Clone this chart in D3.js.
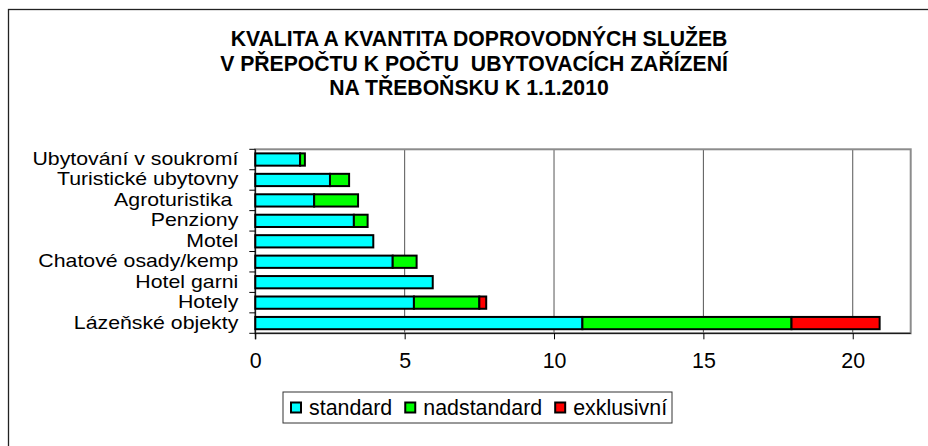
<!DOCTYPE html>
<html>
<head>
<meta charset="utf-8">
<script src="https://cdn.jsdelivr.net/npm/d3@7"></script>
<style>
  body { margin: 0; background: #fff; }
  svg text { font-family: "Liberation Sans", Arial, sans-serif; }
</style>
</head>
<body>
<svg class="svg"></svg>
<script>
// data (top to bottom as in the picture)
const categories = [
  "Ubytování v soukromí",
  "Turistické ubytovny",
  "Agroturistika ",
  "Penziony",
  "Motel",
  "Chatové osady/kemp",
  "Hotel garni",
  "Hotely",
  "Lázeňské objekty"
];
const standard    = [1.5, 2.5, 1.97, 3.3, 3.95, 4.6, 5.94, 5.31, 10.95];
const nadstandard = [0.16, 0.64, 1.47, 0.46, 0, 0.8, 0, 2.19, 7.0];
const exklusivni  = [0, 0, 0, 0, 0, 0, 0, 0.23, 2.95];
const seriesNames = ["standard", "nadstandard", "exklusivní"];
const seriesColors = ["#00ffff", "#00ff00", "#ff0000"];
const xTicks = [0, 5, 10, 15, 20];
const titleLines = [
  "KVALITA A KVANTITA DOPROVODNÝCH SLUŽEB",
  "V PŘEPOČTU K POČTU  UBYTOVACÍCH ZAŘÍZENÍ",
  "NA TŘEBOŇSKU K 1.1.2010"
];

const width = 928, height = 446;
const plot = { left: 255.3, right: 910.7, top: 149.3, bottom: 333.3 };
const fontSize = 21.4;
// category labels are set a bit smaller and stretched so lines don't collide
const labelSize = 18.2, labelStretch = 1.17;

const svg = d3.select(".svg")
  .attr("width", width)
  .attr("height", height);

// outer chart frame (only top and left edges show)
svg.append("rect")
  .attr("x", 8.5).attr("y", 9.5)
  .attr("width", 1000).attr("height", 1000)
  .attr("fill", "none")
  .attr("stroke", "#222")
  .attr("stroke-width", 1.3);

// title
const titleX = [479, 474, 469];
svg.append("g")
  .selectAll("text")
  .data(titleLines)
  .join("text")
  .attr("x", (d, i) => titleX[i])
  .attr("y", (d, i) => 46 + i * 24.5)
  .attr("text-anchor", "middle")
  .attr("font-weight", "bold")
  .attr("font-size", 21.2)
  .style("white-space", "pre")
  .attr("fill", "#000")
  .text(d => d);

const x = d3.scaleLinear()
  .domain([0, 21.94])
  .range([plot.left, plot.right]);

const y = d3.scaleBand()
  .domain(categories)
  .range([plot.top, plot.bottom]);

// gridlines
svg.append("g")
  .selectAll("line")
  .data(xTicks.filter(d => d > 0))
  .join("line")
  .attr("x1", d => x(d)).attr("x2", d => x(d))
  .attr("y1", plot.top).attr("y2", plot.bottom)
  .attr("stroke", "#555")
  .attr("stroke-width", 1);

// plot area border
svg.append("rect")
  .attr("x", plot.left).attr("y", plot.top)
  .attr("width", plot.right - plot.left)
  .attr("height", plot.bottom - plot.top)
  .attr("fill", "none")
  .attr("stroke", "#8c8c8c")
  .attr("stroke-width", 2);

// stacked bars
const rows = categories.map((c, i) => ({
  cat: c, standard: standard[i], nadstandard: nadstandard[i], "exklusivní": exklusivni[i]
}));
const stacked = d3.stack().keys(seriesNames)(rows);

const barTop = y.bandwidth() * 0.2;
const barH = y.bandwidth() * 0.6;

svg.append("g")
  .selectAll("g")
  .data(stacked)
  .join("g")
  .attr("fill", (d, i) => seriesColors[i])
  .selectAll("rect")
  .data(d => d.filter(s => s[1] - s[0] > 0))
  .join("rect")
  .attr("x", d => x(d[0]))
  .attr("y", d => y(d.data.cat) + barTop)
  .attr("width", d => x(d[1]) - x(d[0]))
  .attr("height", barH)
  .attr("stroke", "#000")
  .attr("stroke-width", 2);

// y axis
const yAxis = svg.append("g")
  .attr("transform", `translate(${plot.left},0)`);
yAxis.append("line")
  .attr("y1", plot.top).attr("y2", plot.bottom + 6)
  .attr("stroke", "#000");
yAxis.selectAll("line.tick")
  .data(categories.map(c => y(c)).concat([plot.bottom]))
  .join("line")
  .attr("class", "tick")
  .attr("x1", -6).attr("x2", 0)
  .attr("y1", d => d).attr("y2", d => d)
  .attr("stroke", "#000");
yAxis.selectAll("text")
  .data(categories)
  .join("text")
  .attr("transform", d => `translate(-17,${y(d) + y.bandwidth() / 2}) scale(${labelStretch},1)`)
  .attr("dy", "0.3em")
  .attr("text-anchor", "end")
  .attr("font-size", labelSize)
  .style("white-space", "pre")
  .attr("fill", "#000")
  .text(d => d);

// x axis
const xAxis = svg.append("g")
  .attr("transform", `translate(0,${plot.bottom})`)
  .call(d3.axisBottom(x).tickValues(xTicks).tickSize(6).tickPadding(14).tickSizeOuter(0));
xAxis.select(".domain").attr("stroke", "#000").attr("d", `M${plot.left},0H${plot.right}`);
xAxis.selectAll(".tick line").attr("stroke", "#000");
xAxis.selectAll(".tick text")
  .attr("font-size", fontSize)
  .attr("font-family", "Liberation Sans, Arial, sans-serif")
  .attr("fill", "#000");

// legend
const legend = svg.append("g");
legend.append("rect")
  .attr("x", 283).attr("y", 392)
  .attr("width", 389).attr("height", 31)
  .attr("fill", "#fff")
  .attr("stroke", "#333")
  .attr("stroke-width", 1);

let lx = 291;
seriesNames.forEach((name, i) => {
  legend.append("rect")
    .attr("x", lx).attr("y", 402.5)
    .attr("width", 10).attr("height", 10)
    .attr("fill", seriesColors[i])
    .attr("stroke", "#000")
    .attr("stroke-width", 2);
  const t = legend.append("text")
    .attr("x", lx + 18)
    .attr("y", 415)
    .attr("font-size", fontSize)
    .attr("fill", "#000")
    .text(name);
  lx += 18 + t.node().getComputedTextLength() + 13;
});
</script>
</body>
</html>
